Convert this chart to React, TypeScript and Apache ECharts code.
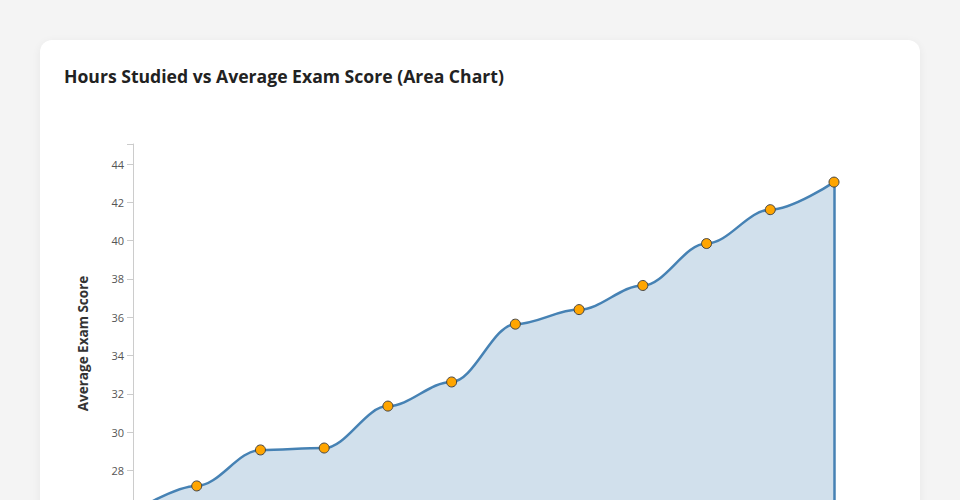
import React, { useEffect, useRef } from "react";
import * as echarts from "echarts";

const hours = [1, 2, 3, 4, 5, 6, 7, 8, 9, 10, 11, 12];
const scores = [25.8, 27.19, 29.07, 29.17, 31.36, 32.62, 35.64, 36.4, 37.66, 39.85, 41.62, 43.06];
const yTickValues = [24, 26, 28, 30, 32, 34, 36, 38, 40, 42, 44];
const yLabelValues = [28, 30, 32, 34, 36, 38, 40, 42, 44];
const yMin = 24;
const yMax = 45.05;
const titleText = "Hours Studied vs Average Exam Score (Area Chart)";
const yAxisName = "Average Exam Score";

const W = 960;
const H = 640;

export default function App() {
  const ref = useRef<HTMLDivElement>(null);

  useEffect(() => {
    document.body.style.margin = "0";
    const chart = echarts.init(ref.current!, null, { renderer: "svg" });
    const last = hours.length - 1;
    chart.setOption({
      animation: false,
      title: {
        text: titleText,
        left: 64,
        top: 67,
        padding: 0,
        textStyle: {
          fontFamily: "Open Sans",
          fontWeight: "bold",
          fontSize: 17.6,
          color: "#222",
        },
      },
      grid: { left: 133, right: 126, top: 144, bottom: H - 547 },
      xAxis: {
        type: "value",
        min: hours[0],
        max: hours[last],
        splitLine: { show: false },
        axisLine: { lineStyle: { color: "#ccc" } },
        axisTick: { show: false },
        axisLabel: { show: false },
      },
      yAxis: {
        type: "value",
        min: yMin,
        max: yMax,
        name: yAxisName,
        nameLocation: "middle",
        nameGap: 43,
        nameRotate: 90,
        nameTextStyle: {
          fontFamily: "Open Sans",
          fontWeight: "bold",
          fontSize: 13.5,
          color: "#333",
          padding: [0, 0, 0, 4],
        },
        splitLine: { show: false },
        axisLine: { show: true, lineStyle: { color: "#ccc", width: 1 } },
        axisTick: {
          show: true,
          length: 6,
          lineStyle: { color: "#ccc" },
          customValues: [...yTickValues, yMax],
        },
        axisLabel: {
          color: "#555",
          fontFamily: "Open Sans",
          fontSize: 11,
          margin: 9,
          customValues: yLabelValues,
        },
      },
      series: [
        {
          type: "line",
          data: hours.map((h, i) => [h, scores[i]]),
          smooth: 0.35,
          smoothMonotone: "x",
          symbol: "circle",
          symbolSize: 10,
          itemStyle: { color: "#ffa500", borderColor: "#444", borderWidth: 1 },
          lineStyle: { color: "#4682b4", width: 2.5 },
          areaStyle: { color: "#4682b4", opacity: 0.25, origin: "start" },
          markLine: {
            silent: true,
            symbol: ["none", "none"],
            label: { show: false },
            lineStyle: { color: "#4682b4", width: 2.5, type: "solid" },
            data: [
              [
                { coord: [hours[last], scores[last]] },
                { coord: [hours[last], yMin] },
              ],
            ],
            z: 1,
          },
        },
      ],
    });
    return () => chart.dispose();
  }, []);

  return (
    <div
      style={{
        position: "relative",
        width: W,
        height: H,
        background: "#f4f4f4",
        overflow: "hidden",
      }}
    >
      <div
        style={{
          position: "absolute",
          left: 40,
          top: 40,
          width: 880,
          height: 580,
          background: "#fff",
          borderRadius: 12,
          boxShadow: "0 2px 10px rgba(0,0,0,0.06)",
        }}
      />
      <div
        ref={ref}
        style={{ position: "absolute", left: 0, top: 0, width: W, height: H }}
      />
    </div>
  );
}
